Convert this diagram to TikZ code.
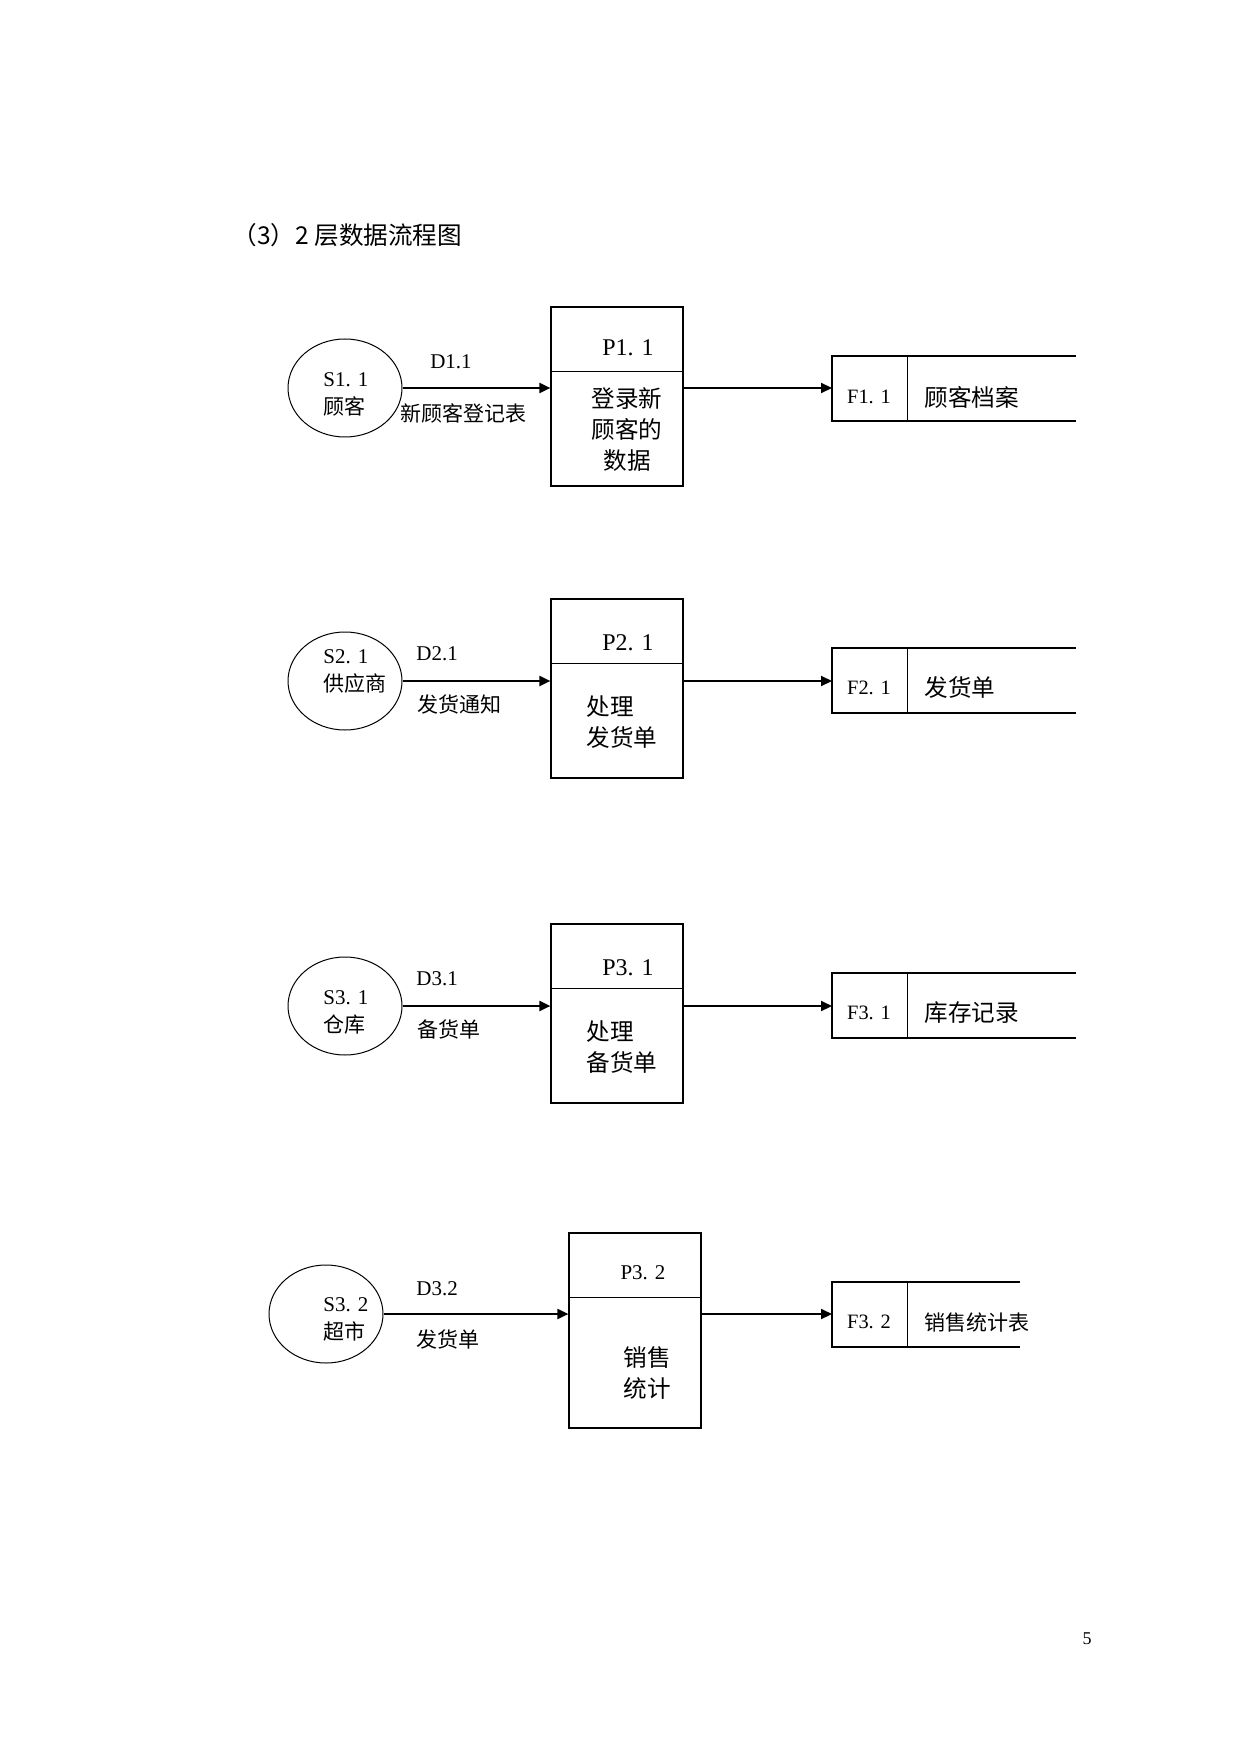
\documentclass[tikz,border=0pt]{standalone}
\usepackage{fontspec}
\setmainfont{Liberation Serif}
\newfontfamily\cjk{Noto Sans CJK SC}
\usetikzlibrary{shapes.geometric,arrows.meta,calc}

\begin{document}
\begin{tikzpicture}[x=0.5pt,y=-0.5pt,>={Triangle[length=5.5pt,width=5pt]},
    source/.style={draw,ellipse,line width=0.5pt,minimum width=57pt,minimum height=49pt,inner sep=0pt},
    procbox/.style={draw,line width=0.6pt,minimum width=66pt,minimum height=89.5pt,inner sep=0pt},
    flow/.style={->,line width=1pt},
    store/.style={line width=0.7pt},
    lbl/.style={inner sep=0pt,font=\fontsize{10.5}{14}\selectfont},
    boxtxt/.style={inner sep=0pt,font=\fontsize{11.8}{15.5}\selectfont},
    pid/.style={inner sep=0pt,font=\fontsize{12}{14}\selectfont},
    fid/.style={inner sep=0pt,font=\fontsize{10.2}{12}\selectfont}]
\useasboundingbox (0,0) rectangle (1241,1754);

\node[inner sep=0pt,anchor=west,font=\cjk\fontsize{12.3}{14}\selectfont] (title) at (232,235) {（3）2 层数据流程图};

% 1
\node[source] (s11) at (345,388) {};
\node[lbl,align=left,anchor=west] (s11t) at (323,394) {S1. 1\\{\cjk 顾客}};
\node[lbl] (d11) at (451,362) {D1.1};
\node[lbl] (d11t) at (463,413) {\cjk 新顾客登记表};
\node[procbox] (p11) at (617,396.5) {};
\draw[line width=0.6pt] ($(p11.north west)+(0,65)$) -- ($(p11.north east)+(0,65)$);
\node[pid] (p11t) at (628,348) {P1. 1};
\node[boxtxt,align=center] (p11n) at (627,430) {\cjk 登录新\\\cjk 顾客的\\\cjk 数据};
\coordinate (f11) at (832,388);
\draw[store] (1076,356) -- (832,356) -- (832,421) -- (1076,421);
\draw[line width=0.5pt] (907,356) -- (907,421);
\node[fid] (f11t) at (869,397) {F1. 1};
\node[boxtxt,anchor=west] (f11n) at (924,397) {\cjk 顾客档案};
\draw[flow] (s11.east) -- (s11.east -| p11.west);
\draw[flow] (p11.east |- f11) -- (f11);

% 2
\node[source] (s21) at (345,681) {};
\node[lbl,align=left,anchor=west] (s21t) at (323,671) {S2. 1\\{\cjk 供应商}};
\node[lbl,anchor=west] (d21) at (416,654) {D2.1};
\node[lbl,anchor=west] (d21t) at (417,704) {\cjk 发货通知};
\node[procbox] (p21) at (617,688.5) {};
\draw[line width=0.6pt] ($(p21.north west)+(0,65)$) -- ($(p21.north east)+(0,65)$);
\node[pid] (p21t) at (628,643) {P2. 1};
\node[boxtxt,align=left,anchor=west] (p21n) at (586,722.5) {\cjk 处理\\\cjk 发货单};
\coordinate (f21) at (832,681);
\draw[store] (1076,648) -- (832,648) -- (832,713) -- (1076,713);
\draw[line width=0.5pt] (907,648) -- (907,713);
\node[fid] (f21t) at (869,688) {F2. 1};
\node[boxtxt,anchor=west] (f21n) at (924,688) {\cjk 发货单};
\draw[flow] (s21.east) -- (s21.east -| p21.west);
\draw[flow] (p21.east |- f21) -- (f21);

% 3
\node[source] (s31) at (345,1006) {};
\node[lbl,align=left,anchor=west] (s31t) at (323,1012) {S3. 1\\{\cjk 仓库}};
\node[lbl,anchor=west] (d31) at (416,979) {D3.1};
\node[lbl,anchor=west] (d31t) at (417,1029) {\cjk 备货单};
\node[procbox] (p31) at (617,1013.5) {};
\draw[line width=0.6pt] ($(p31.north west)+(0,65)$) -- ($(p31.north east)+(0,65)$);
\node[pid] (p31t) at (628,968) {P3. 1};
\node[boxtxt,align=left,anchor=west] (p31n) at (586,1047.5) {\cjk 处理\\\cjk 备货单};
\coordinate (f31) at (832,1006);
\draw[store] (1076,973) -- (832,973) -- (832,1038) -- (1076,1038);
\draw[line width=0.5pt] (907,973) -- (907,1038);
\node[fid] (f31t) at (869,1013) {F3. 1};
\node[boxtxt,anchor=west] (f31n) at (924,1013) {\cjk 库存记录};
\draw[flow] (s31.east) -- (s31.east -| p31.west);
\draw[flow] (p31.east |- f31) -- (f31);

% 4
\node[source] (s32) at (326,1314) {};
\node[lbl,align=left,anchor=west] (s32t) at (323,1319) {S3. 2\\{\cjk 超市}};
\node[lbl,anchor=west] (d32) at (416,1289) {D3.2};
\node[lbl,anchor=west] (d32t) at (416,1339) {\cjk 发货单};
\node[procbox,minimum height=97.5pt] (p32) at (635,1330.5) {};
\draw[line width=0.6pt] ($(p32.north west)+(0,65)$) -- ($(p32.north east)+(0,65)$);
\node[fid,font=\fontsize{10.5}{12}\selectfont] (p32t) at (643,1273) {P3. 2};
\node[boxtxt,align=left,anchor=west] (p32n) at (623,1373) {\cjk 销售\\\cjk 统计};
\coordinate (f32) at (832,1314);
\draw[store,line width=1pt] (1020,1282) -- (832,1282) -- (832,1347) -- (1020,1347);
\draw[line width=0.5pt] (907,1282) -- (907,1347);
\node[fid] (f32t) at (869,1322) {F3. 2};
\node[lbl,anchor=west] (f32n) at (924,1322) {\cjk 销售统计表};
\draw[flow] (s32.east) -- (s32.east -| p32.west);
\draw[flow] (p32.east |- f32) -- (f32);

\node[inner sep=0pt,font=\fontsize{9}{11}\selectfont] (pageno) at (1087,1639) {5};
\end{tikzpicture}
\end{document}
